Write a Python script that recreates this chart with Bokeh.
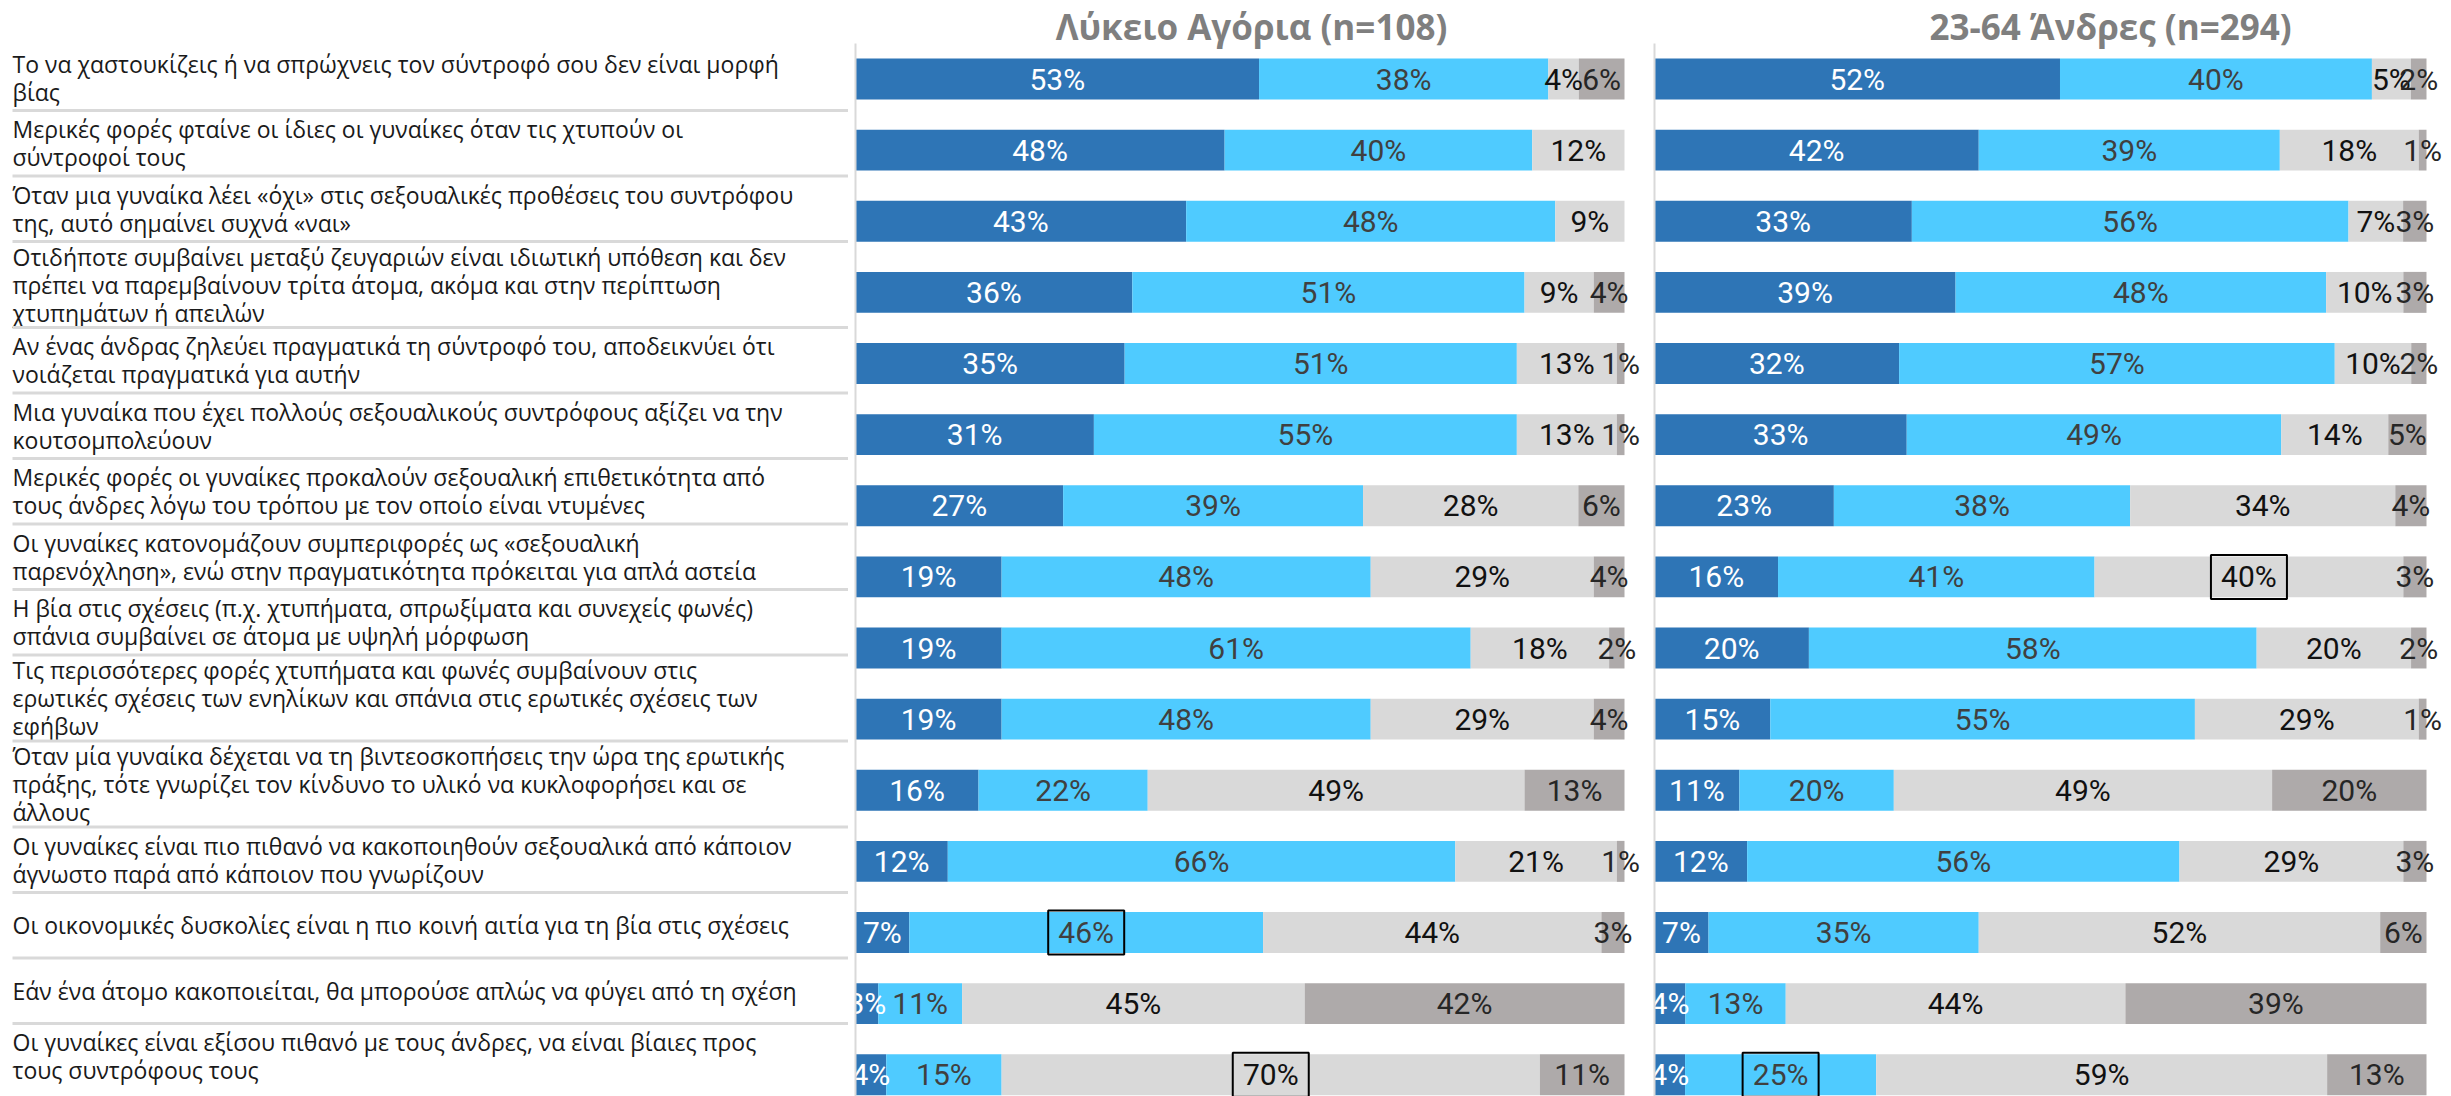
import numpy as np
from bokeh.plotting import figure
from bokeh.models import ColumnDataSource, Range1d
from bokeh.layouts import row
from bokeh.embed import file_html
from bokeh.resources import INLINE
from bokeh.core.properties import value

# ---------------- data ----------------
statements = [
    "Το να χαστουκίζεις ή να σπρώχνεις τον σύντροφό σου δεν είναι μορφή\nβίας",
    "Μερικές φορές φταίνε οι ίδιες οι γυναίκες όταν τις χτυπούν οι\nσύντροφοί τους",
    "Όταν μια γυναίκα λέει «όχι» στις σεξουαλικές προθέσεις του συντρόφου\nτης, αυτό σημαίνει συχνά «ναι»",
    "Οτιδήποτε συμβαίνει μεταξύ ζευγαριών είναι ιδιωτική υπόθεση και δεν\nπρέπει να παρεμβαίνουν τρίτα άτομα, ακόμα και στην περίπτωση\nχτυπημάτων ή απειλών",
    "Αν ένας άνδρας ζηλεύει πραγματικά τη σύντροφό του, αποδεικνύει ότι\nνοιάζεται πραγματικά για αυτήν",
    "Μια γυναίκα που έχει πολλούς σεξουαλικούς συντρόφους αξίζει να την\nκουτσομπολεύουν",
    "Μερικές φορές οι γυναίκες προκαλούν σεξουαλική επιθετικότητα από\nτους άνδρες λόγω του τρόπου με τον οποίο είναι ντυμένες",
    "Οι γυναίκες κατονομάζουν συμπεριφορές ως «σεξουαλική\nπαρενόχληση», ενώ στην πραγματικότητα πρόκειται για απλά αστεία",
    "Η βία στις σχέσεις (π.χ. χτυπήματα, σπρωξίματα και συνεχείς φωνές)\nσπάνια συμβαίνει σε άτομα με υψηλή μόρφωση",
    "Τις περισσότερες φορές χτυπήματα και φωνές συμβαίνουν στις\nερωτικές σχέσεις των ενηλίκων και σπάνια στις ερωτικές σχέσεις των\nεφήβων",
    "Όταν μία γυναίκα δέχεται να τη βιντεοσκοπήσεις την ώρα της ερωτικής\nπράξης, τότε γνωρίζει τον κίνδυνο το υλικό να κυκλοφορήσει και σε\nάλλους",
    "Οι γυναίκες είναι πιο πιθανό να κακοποιηθούν σεξουαλικά από κάποιον\nάγνωστο παρά από κάποιον που γνωρίζουν",
    "Οι οικονομικές δυσκολίες είναι η πιο κοινή αιτία για τη βία στις σχέσεις",
    "Εάν ένα άτομο κακοποιείται, θα μπορούσε απλώς να φύγει από τη σχέση",
    "Οι γυναίκες είναι εξίσου πιθανό με τους άνδρες, να είναι βίαιες προς\nτους συντρόφους τους",
]

title_boys = "Λύκειο Αγόρια (n=108)"
title_men = "23-64 Άνδρες (n=294)"

# four answer categories (dark blue, light blue, light grey, dark grey)
boys_c1 = [53, 48, 43, 36, 35, 31, 27, 19, 19, 19, 16, 12, 7, 3, 4]
boys_c2 = [38, 40, 48, 51, 51, 55, 39, 48, 61, 48, 22, 66, 46, 11, 15]
boys_c3 = [4, 12, 9, 9, 13, 13, 28, 29, 18, 29, 49, 21, 44, 45, 70]
boys_c4 = [6, 0, 0, 4, 1, 1, 6, 4, 2, 4, 13, 1, 3, 42, 11]

men_c1 = [52, 42, 33, 39, 32, 33, 23, 16, 20, 15, 11, 12, 7, 4, 4]
men_c2 = [40, 39, 56, 48, 57, 49, 38, 41, 58, 55, 20, 56, 35, 13, 25]
men_c3 = [5, 18, 7, 10, 10, 14, 34, 40, 20, 29, 49, 29, 52, 44, 59]
men_c4 = [2, 1, 3, 3, 2, 5, 4, 3, 2, 1, 20, 3, 6, 39, 13]

# highlighted (boxed) labels: (row index, category index)
boys_boxed = [(12, 1), (14, 2)]
men_boxed = [(7, 2), (14, 1)]

# ---------------- style ----------------
COLORS = ["#2E75B6", "#4FCBFF", "#D9D9D9", "#AEAAAA"]
LABEL_COLORS = ["#FFFFFF", "#404040", "#111111", "#262626"]
LABEL_FONT = "Roboto"
TEXT_FONT = "Open Sans"

H_TOTAL = 1096
PAGE_TOP = 0
ROW0_Y = 78.5          # screen y of first bar centre
ROW_STEP = 71.125      # screen px between bars
BAR_H = 0.576

y_top = (PAGE_TOP - ROW0_Y) / ROW_STEP
y_bot = (PAGE_TOP + H_TOTAL - ROW0_Y) / ROW_STEP


def make_panel(cols, boxed, title, fig_left, axis_x, bar_end, fig_right, title_cx):
    ppx = (bar_end - axis_x) / 100.0
    x0 = (fig_left - axis_x) / ppx
    x1 = (fig_right - axis_x) / ppx
    p = figure(width=int(fig_right - fig_left), height=H_TOTAL,
               x_range=Range1d(x0, x1), y_range=Range1d(y_bot, y_top),
               toolbar_location=None, output_backend="svg",
               min_border=0, outline_line_color=None)
    p.axis.visible = False
    p.grid.visible = False

    arr = np.array(cols, dtype=float)           # (4, n)
    totals = arr.sum(axis=0)
    share = arr / totals * 100.0
    rights = np.cumsum(share, axis=0)
    lefts = rights - share
    n = arr.shape[1]
    ys = np.arange(n)

    for k in range(4):
        src = ColumnDataSource(dict(y=ys, left=lefts[k], right=rights[k]))
        p.hbar(y="y", left="left", right="right", height=BAR_H, source=src,
               fill_color=COLORS[k], line_color=None)

    for k in range(4):
        mask = arr[k] > 0
        mids = (lefts[k] + rights[k]) / 2
        src = ColumnDataSource(dict(
            x=mids[mask], y=ys[mask],
            t=["%d%%" % v for v in arr[k][mask]]))
        p.text(x="x", y="y", text="t", source=src,
               text_align="center", text_baseline="middle",
               text_font=value(LABEL_FONT), text_font_size="30px",
               text_color=LABEL_COLORS[k])

    bx = [(lefts[k][r] + rights[k][r]) / 2 for r, k in boxed]
    by = [r for r, k in boxed]
    p.rect(x=bx, y=by, width=76, height=44, width_units="screen",
           height_units="screen", fill_color=None, line_color="#000000",
           line_width=2)

    # category axis line
    p.segment(x0=[0], y0=[-0.5], x1=[0], y1=[y_bot], line_color="#D9D9D9",
              line_width=2)

    # panel title
    p.text(x=[(title_cx - axis_x) / ppx], y=[(26 - ROW0_Y) / ROW_STEP],
           text=[title], text_align="center", text_baseline="middle",
           text_font=value(TEXT_FONT), text_font_style="bold",
           text_font_size="35px", text_color="#7F7F7F")
    return p


# ---------------- label table ----------------
LAB_LEFT, LAB_RIGHT = 0, 848
lab = figure(width=LAB_RIGHT - LAB_LEFT, height=H_TOTAL,
             x_range=Range1d(LAB_LEFT, LAB_RIGHT),
             y_range=Range1d(PAGE_TOP + H_TOTAL, PAGE_TOP),
             toolbar_location=None, output_backend="svg",
             min_border=0, outline_line_color=None)
lab.axis.visible = False
lab.grid.visible = False

TABLE_TOP = 44.5
MIN_ROW_H = 65.5
LINE_H = 28
ty, tt, sep = [], [], []
cur = TABLE_TOP
for s in statements:
    lines = s.split("\n")
    nl = len(lines)
    h = max(MIN_ROW_H, LINE_H * nl + 2)
    c = cur + h / 2
    for j, ln in enumerate(lines):
        ty.append(c + (j - (nl - 1) / 2) * LINE_H)
        tt.append(ln)
    cur += h
    sep.append(cur)

lab.text(x=[12] * len(tt), y=ty, text=tt, text_align="left",
         text_baseline="middle", text_font=value(TEXT_FONT),
         text_font_size="23px", text_color="#1A1A1A")
sep = sep[:-1]
lab.segment(x0=[12] * len(sep), y0=sep, x1=[LAB_RIGHT] * len(sep), y1=sep,
            line_color="#D9D9D9", line_width=3)

p_boys = make_panel([boys_c1, boys_c2, boys_c3, boys_c4], boys_boxed,
                    title_boys, 848, 855, 1624, 1646, 1251)
p_men = make_panel([men_c1, men_c2, men_c3, men_c4], men_boxed,
                   title_men, 1646, 1654, 2426, 2451, 2110)

layout = row(lab, p_boys, p_men, spacing=0)
open("out.html", "w").write(file_html(layout, INLINE))
